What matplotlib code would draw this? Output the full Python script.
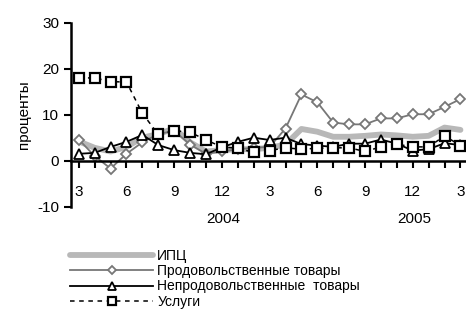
import numpy as np
import matplotlib.pyplot as plt
from matplotlib.ticker import MultipleLocator

plt.rcParams['font.family'] = ['Liberation Sans Narrow', 'Liberation Sans', 'DejaVu Sans']
plt.rcParams['axes.unicode_minus'] = False

# months: March 2003 .. March 2005
months = np.arange(25)
tick_labels = ["3", "6", "9", "12", "3", "6", "9", "12", "3"]

cpi = [4.2, 2.8, 2.0, 3.0, 5.0, 5.8, 7.0, 4.0, 2.0, 2.3, 2.5, 2.5, 2.8,
       3.5, 6.9, 6.3, 5.2, 5.2, 5.4, 5.7, 5.5, 5.2, 5.4, 7.2, 6.7]
food = [4.6, 1.0, -1.7, 1.5, 4.0, 5.8, 6.5, 3.5, 1.5, 2.0, 2.5, 2.8, 3.0,
        7.0, 14.4, 12.7, 8.3, 7.9, 7.9, 9.2, 9.2, 10.1, 10.1, 11.7, 13.4]
nonfood = [1.5, 1.7, 3.0, 4.1, 5.6, 3.4, 2.3, 1.7, 1.4, 2.9, 4.1, 5.0, 4.5,
           5.0, 3.6, 3.3, 3.0, 3.7, 3.7, 4.6, 3.7, 2.2, 2.5, 3.8, 3.4]
services = [18.0, 18.0, 17.2, 17.1, 10.3, 5.7, 6.5, 6.2, 4.5, 3.0, 2.7, 1.8, 2.2,
            2.8, 2.5, 2.7, 2.8, 2.8, 2.0, 3.0, 3.6, 3.0, 3.0, 5.4, 3.3]

fig = plt.figure(figsize=(4.66, 3.16), dpi=100)
ax = fig.add_axes([0.152, 0.346, 0.848, 0.582])

ax.plot(months, cpi, color="#b8b8b8", lw=4.2, solid_capstyle="round", label="ИПЦ")
ax.plot(months, food, color="#777777", lw=1.3, marker="D", ms=5.5, mfc="white",
        mec="#777777", mew=1.3, label="Продовольственные товары")
ax.plot(months, nonfood, color="black", lw=1.3, marker="^", ms=7, mfc="white",
        mec="black", mew=1.3, label="Непродовольственные  товары")
ax.plot(months, services, color="black", lw=1.1, ls=(0, (3, 3)), marker="s", ms=7,
        mfc="white", mec="black", mew=1.6, label="Услуги")

ax.set_xlim(-0.5, 24.35)
ax.set_ylim(-10, 30)
ax.yaxis.set_major_locator(MultipleLocator(10))

ax.spines["top"].set_visible(False)
ax.spines["right"].set_visible(False)
ax.spines["bottom"].set_position(("data", 0))
ax.spines["bottom"].set_linewidth(1.8)
ax.spines["left"].set_linewidth(1.8)

# month ticks on the zero line, labels lower down (near -7)
ax.set_xticks(months[::3])
ax.set_xticks(months, minor=True)
ax.tick_params(axis="x", which="both", direction="out", length=5, width=1.5,
               labelbottom=False)
for m, lbl in zip(months[::3], tick_labels):
    ax.text(m, -6.9, lbl, ha="center", va="center", fontsize=11)
ax.tick_params(axis="y", direction="out", length=5, width=1.5, labelsize=11)

ax.text(9.1, -12.6, "2004", ha="center", va="center", fontsize=11)
ax.text(21.1, -12.6, "2005", ha="center", va="center", fontsize=11)
ax.set_ylabel("проценты", fontsize=11, labelpad=4)

fig.legend(loc="upper left", bbox_to_anchor=(0.135, 0.235), frameon=False,
           fontsize=10, handlelength=6.0, handletextpad=0.3, labelspacing=0.1,
           borderpad=0, markerscale=0.75)

fig.savefig("out.png", dpi=100)
